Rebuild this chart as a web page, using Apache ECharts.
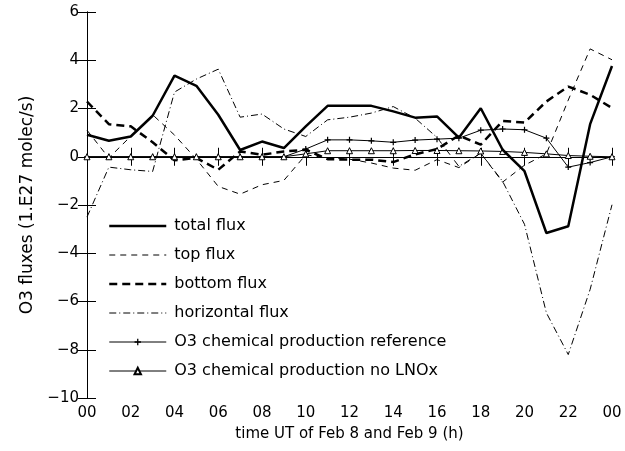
<!DOCTYPE html>
<html>
<head>
<meta charset="utf-8">
<script src="https://cdn.jsdelivr.net/npm/echarts@6/dist/echarts.min.js"></script>
<style>html,body{margin:0;padding:0;background:#fff}#c{width:625px;height:451px}</style>
</head>
<body>
<div id="c"></div>
<script>
var hours = [0,1,2,3,4,5,6,7,8,9,10,11,12,13,14,15,16,17,18,19,20,21,22,23,24];
var totalFlux = [0.91,0.66,0.84,1.70,3.36,2.94,1.74,0.28,0.63,0.36,1.26,2.11,2.11,2.11,1.88,1.62,1.67,0.79,2.01,0.29,-0.60,-3.16,-2.88,1.35,3.76];
var topFlux = [1.10,-0.05,0.85,1.74,0.90,-0.10,-1.23,-1.55,-1.16,-0.98,0.08,-0.05,-0.10,-0.26,-0.47,-0.56,-0.12,-0.45,0.15,-1.05,-0.35,0.12,2.35,4.47,4.02];
var bottomFlux = [2.29,1.35,1.26,0.60,-0.15,-0.05,-0.54,0.22,0.08,0.22,0.29,-0.10,-0.12,-0.12,-0.22,0.10,0.32,0.88,0.50,1.48,1.42,2.29,2.91,2.57,2.02];
var horizontalFlux = [-2.50,-0.43,-0.54,-0.61,2.68,3.22,3.63,1.64,1.77,1.15,0.84,1.53,1.64,1.81,2.08,1.60,0.80,-0.40,0.15,-1.02,-2.80,-6.47,-8.20,-5.50,-1.99];
var chemRef = [0,0,0,0,0,0,0,0,0,0,0.32,0.70,0.70,0.66,0.60,0.69,0.73,0.77,1.10,1.15,1.12,0.77,-0.43,-0.24,0];
var chemNoLNOx = [0,0,0,0,0,0,0,0,0,0,0.12,0.25,0.25,0.25,0.25,0.26,0.26,0.25,0.24,0.22,0.18,0.12,0.05,0.02,0];
var xTickLabels = ['00','02','04','06','08','10','12','14','16','18','20','22','00'];
var yTickLabels = {'-10':'\u221210','-8':'\u22128','-6':'\u22126','-4':'\u22124','-2':'\u22122','0':'0','2':'2','4':'4','6':'6'};
var seriesNames = ['total flux','top flux','bottom flux','horizontal flux','O3 chemical production reference','O3 chemical production no LNOx'];

function pairs(arr){ return hours.map(function(h,i){ return [h, arr[i]]; }); }

var FONT = 'DejaVu Sans';
var plusPath = 'path://M4,0h2v4h4v2h-4v4h-2v-4h-4v-2h4z';
var clear = 'rgba(0,0,0,0)';

var styles = [
  {color:'#000',width:2.5,type:'solid'},
  {color:'#000',width:1,type:[6,5]},
  {color:'#000',width:2.5,type:[8,5]},
  {color:'#000',width:1,type:[7,3,1,3]},
  {color:'#000',width:1,type:'solid'},
  {color:'#000',width:1,type:'solid'}
];

var axisCommon = {
  axisLine:{show:true,lineStyle:{color:'#000',width:1}},
  axisTick:{show:true,inside:true,length:9,lineStyle:{color:'#000',width:1}},
  splitLine:{show:false}
};

var chart = echarts.init(document.getElementById('c'), null, {renderer:'canvas'});
chart.setOption({
  animation:false,
  backgroundColor:'#fff',
  grid:{left:87,right:13,top:12,bottom:53},
  legend:{
    orient:'vertical', left:103, top:213,
    itemWidth:57, itemHeight:8, itemGap:13,
    textStyle:{fontFamily:FONT,fontSize:16,color:'#000',padding:[0,0,0,3]},
    data:seriesNames.map(function(n,i){ return {name:n, lineStyle:styles[i]}; })
  },
  xAxis:[
    Object.assign({type:'value',min:0,max:24,interval:2,position:'bottom',
      name:'time UT of Feb 8 and Feb 9 (h)',nameLocation:'middle',nameGap:29,
      nameTextStyle:{fontFamily:FONT,fontSize:15,color:'#000'},
      axisLabel:{fontFamily:FONT,fontSize:15,color:'#000',margin:8,
        formatter:function(v){return xTickLabels[Math.round(v/2)];}}},axisCommon),
    Object.assign({type:'value',min:0,max:24,interval:2,position:'top',axisLabel:{show:false}},axisCommon)
  ],
  yAxis:[
    Object.assign({type:'value',min:-10,max:6,interval:2,position:'left',
      name:'O3 fluxes (1.E27 molec/s)',nameLocation:'middle',nameGap:49,
      nameTextStyle:{fontFamily:FONT,fontSize:17,color:'#000'},
      axisLabel:{fontFamily:FONT,fontSize:15,color:'#000',margin:8,
        formatter:function(v){return yTickLabels[String(v)];}}},axisCommon),
    Object.assign({type:'value',min:-10,max:6,interval:2,position:'right',axisLabel:{show:false}},axisCommon)
  ],
  series:[
    {name:seriesNames[0],type:'line',data:pairs(totalFlux),symbol:'none',
     lineStyle:styles[0],itemStyle:{color:clear,borderWidth:0},z:5},
    {name:seriesNames[1],type:'line',data:pairs(topFlux),symbol:'none',
     lineStyle:styles[1],itemStyle:{color:clear,borderWidth:0}},
    {name:seriesNames[2],type:'line',data:pairs(bottomFlux),symbol:'none',
     lineStyle:styles[2],itemStyle:{color:clear,borderWidth:0}},
    {name:seriesNames[3],type:'line',data:pairs(horizontalFlux),symbol:'none',
     lineStyle:styles[3],itemStyle:{color:clear,borderWidth:0}},
    {name:seriesNames[4],type:'line',data:pairs(chemRef),symbol:plusPath,symbolSize:6,showSymbol:true,
     lineStyle:styles[4],itemStyle:{color:'#000'}},
    {name:seriesNames[5],type:'line',data:pairs(chemNoLNOx),symbol:'triangle',symbolSize:6,showSymbol:true,
     lineStyle:styles[5],itemStyle:{color:'#fff',borderColor:'#000',borderWidth:1}}
  ]
});
</script>
</body>
</html>
